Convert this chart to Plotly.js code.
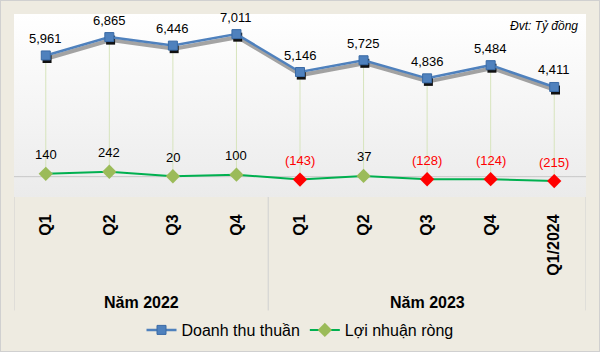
<!DOCTYPE html>
<html>
<head>
<meta charset="utf-8">
<script src="https://cdn.plot.ly/plotly-3.0.1.min.js"></script>
<style>
html,body{margin:0;padding:0;background:#EEEBE1;}
#wrap{position:relative;width:600px;height:352px;}
#chart{width:600px;height:352px;}
#frame{position:absolute;left:0;top:0;width:598px;height:350px;border:1px solid #D0D0D0;pointer-events:none;}
</style>
</head>
<body>
<div id="wrap"><div id="chart"></div><div id="frame"></div></div>
<script>
const quarters = ['Q1','Q2','Q3','Q4','Q1','Q2','Q3','Q4','Q1/2024'];
const revenue = [5961, 6865, 6446, 7011, 5146, 5725, 4836, 5484, 4411];
const profit = [140, 242, 20, 100, -143, 37, -128, -124, -215];
const groups = ['Năm 2022', 'Năm 2023'];
const groupCenters = [1.5, 6];
const groupBounds = [-0.5, 3.5, 8.5];
const seriesNames = ['Doanh thu thuần', 'Lợi nhuận ròng'];

const idx = quarters.map((_, i) => i);
const fmt = v => v < 0 ? '(' + Math.abs(v).toLocaleString('en-US') + ')' : v.toLocaleString('en-US');

const font = 'Liberation Sans, Arial, sans-serif';
const blue = '#4F81BD', green = '#00B050', greenMk = '#9BBB59', red = '#FF0000';

// drop lines
const dx = [], dy = [];
idx.forEach(i => { dx.push(i, i, null); dy.push(revenue[i], profit[i], null); });

const traces = [
  {x: dx, y: dy, mode: 'lines', line: {color: '#D7E4BD', width: 1}, hoverinfo: 'skip', showlegend: false},
  {x: idx.map(i => i + 0.02), y: revenue.map(v => v - 150), mode: 'lines+markers',
   line: {color: 'rgba(0,0,0,0.35)', width: 4}, marker: {symbol: 'square', size: 9, color: '#111'},
   hoverinfo: 'skip', showlegend: false},
  {x: idx, y: revenue, name: seriesNames[0], mode: 'lines+markers',
   line: {color: blue, width: 2.5}, marker: {symbol: 'square', size: 9, color: blue, line: {color: '#3A6AA5', width: 1}}},
  {x: idx, y: profit, name: seriesNames[1], mode: 'lines+markers',
   line: {color: green, width: 2},
   marker: {symbol: 'diamond', size: 11, color: profit.map(v => v < 0 ? red : greenMk)}}
];

const annotations = [];
idx.forEach(i => {
  annotations.push({x: i, y: revenue[i], text: fmt(revenue[i]), showarrow: false, yshift: 17,
    font: {family: font, size: 13, color: '#000'}});
  annotations.push({x: i, y: profit[i], text: fmt(profit[i]), showarrow: false, yshift: 19,
    font: {family: font, size: 13, color: profit[i] < 0 ? red : '#000'}});
});
groups.forEach((g, k) => {
  annotations.push({x: groupCenters[k], xref: 'x', xanchor: 'center', y: -0.579, yref: 'paper', yanchor: 'middle',
    text: '<b>' + g + '</b>', showarrow: false, font: {family: font, size: 16, color: '#000'}});
});
annotations.push({x: 1, xref: 'paper', xanchor: 'right', y: 0.934, yref: 'paper', yanchor: 'middle',
  text: '<i>Đvt: Tỷ đồng</i>', showarrow: false, xshift: -6, font: {family: font, size: 12, color: '#000'}});

const shapes = groupBounds.map(b => ({type: 'line', xref: 'x', yref: 'paper', x0: b, x1: b, y0: 0, y1: -0.62,
  line: {color: '#D0D0D0', width: 1}}));
shapes.push({type: 'line', xref: 'paper', yref: 'y', x0: 0, x1: 1, y0: 0, y1: 0, line: {color: '#C8C8C8', width: 1}, layer: 'below'});

const grad = 'data:image/svg+xml;utf8,' + encodeURIComponent(
  '<svg xmlns="http://www.w3.org/2000/svg" width="100" height="100" preserveAspectRatio="none">' +
  '<defs><linearGradient id="g" x1="0" y1="0" x2="0" y2="1"><stop offset="0" stop-color="#FFFFFF"/>' +
  '<stop offset="1" stop-color="#EBEBEB"/></linearGradient></defs><rect width="100" height="100" fill="url(#g)"/></svg>');

const layout = {
  width: 600, height: 352,
  margin: {l: 14, r: 14, t: 14, b: 155, pad: 0},
  paper_bgcolor: '#EEEBE1', plot_bgcolor: 'rgba(0,0,0,0)',
  font: {family: font, color: '#000'},
  showlegend: true,
  legend: {orientation: 'h', x: 0.5, xanchor: 'center', yref: 'container', y: 0.0625, yanchor: 'middle',
    font: {family: font, size: 16, color: '#000'}, bgcolor: 'rgba(0,0,0,0)', itemwidth: 30, tracegroupgap: 0},
  xaxis: {range: [-0.5, 8.5], tickvals: idx, ticktext: quarters.map(q => '<b>' + q + '</b>'), tickangle: -90,
    showgrid: false, zeroline: false, showline: false, ticks: 'outside', ticklen: 10, tickcolor: 'rgba(0,0,0,0)',
    tickfont: {family: font, size: 16, color: '#000'}, fixedrange: true, automargin: false},
  yaxis: {range: [-1000, 8000], visible: false, fixedrange: true, automargin: false},
  images: [{source: grad, xref: 'paper', yref: 'paper', x: 0, y: 1, sizex: 1, sizey: 1,
    sizing: 'stretch', xanchor: 'left', yanchor: 'top', layer: 'below'}],
  annotations: annotations,
  shapes: shapes
};
Plotly.newPlot('chart', traces, layout, {displayModeBar: false, staticPlot: true});
</script>
</body>
</html>
